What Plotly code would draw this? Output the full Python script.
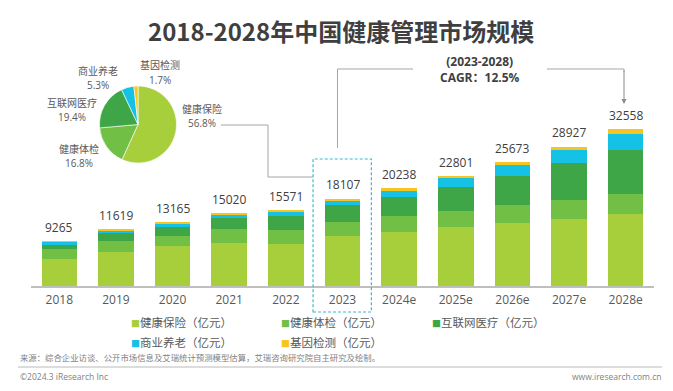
import plotly.graph_objects as go

# ---------------- data ----------------
years = ["2018", "2019", "2020", "2021", "2022", "2023", "2024e", "2025e", "2026e", "2027e", "2028e"]
totals = [9265, 11619, 13165, 15020, 15571, 18107, 20238, 22801, 25673, 28927, 32558]
health_insurance = [5600, 7100, 8350, 8850, 8700, 10285, 11250, 12300, 13130, 13900, 14930]
health_checkup = [2000, 2200, 2070, 2900, 2900, 3042, 3250, 3250, 3600, 3940, 4080]
internet_medical = [900, 1600, 1870, 2280, 2900, 3513, 3870, 5040, 6150, 7610, 9120]
commercial_pension = [650, 600, 750, 850, 850, 960, 1380, 1720, 2140, 2830, 3460]
gene_testing = [115, 119, 125, 140, 221, 307, 488, 491, 653, 647, 968]

series_names = ["健康保险（亿元）", "健康体检（亿元）", "互联网医疗（亿元）", "商业养老（亿元）", "基因检测（亿元）"]
series_values = [health_insurance, health_checkup, internet_medical, commercial_pension, gene_testing]
colors = ["#a6cf3b", "#72bf46", "#3fa648", "#16c1e6", "#f7c520"]

pie_labels = ["健康保险", "健康体检", "互联网医疗", "商业养老", "基因检测"]
pie_pct = [56.8, 16.8, 19.4, 5.3, 1.7]

cagr_period = "(2023-2028)"
cagr_text = "CAGR：12.5%"
title_text = "2018-2028年中国健康管理市场规模"
source_text = "来源：综合企业访谈、公开市场信息及艾瑞统计预测模型估算，艾瑞咨询研究院自主研究及绘制。"
copyright_text = "©2024.3 iResearch Inc"
site_text = "www.iresearch.com.cn"

# ---------------- layout geometry ----------------
W, H = 673, 391
ML, MR, MT, MB = 31, 19, 20, 105
PW, PH = W - ML - MR, H - MT - MB
PX_PER_UNIT = 0.004822
YMAX = PH / PX_PER_UNIT

def px(x):
    return (x - ML) / PW

def py(y):
    return (H - MB - y) / PH

FONT = "Open Sans, Noto Sans CJK SC, sans-serif"
CJK = "Noto Sans CJK SC, sans-serif"

idx = list(range(len(years)))

fig = go.Figure()

for name, vals, col in zip(series_names, series_values, colors):
    fig.add_trace(go.Bar(
        x=idx, y=vals, name=name,
        marker=dict(color=col, line=dict(width=0)),
        hoverinfo="skip", showlegend=False,
    ))

# pie
fig.add_trace(go.Pie(
    labels=pie_labels, values=pie_pct,
    marker=dict(colors=colors, line=dict(color="white", width=0.6)),
    sort=False, direction="clockwise", rotation=0,
    textinfo="none", hoverinfo="skip", showlegend=False,
    domain=dict(x=[px(99.5), px(176.5)], y=[py(163), py(86)]),
))

annotations = []
# totals above bars
for i, t in zip(idx, totals):
    annotations.append(dict(
        x=i, y=t, xref="x", yref="y", text=str(t), showarrow=False,
        yanchor="middle", yshift=14,
        font=dict(family=FONT, size=12, color="#404040"),
    ))

# pie labels: (center x, name y, pct y)
pie_label_pos = {
    "健康保险": (202, 108.5, 123),
    "健康体检": (79, 148.5, 163),
    "互联网医疗": (72, 102.5, 117),
    "商业养老": (98, 70.5, 85),
    "基因检测": (160, 64.5, 79.5),
}
for lab, pct in zip(pie_labels, pie_pct):
    cx, ny, vy = pie_label_pos[lab]
    annotations.append(dict(
        x=px(cx), y=py(ny), xref="paper", yref="paper",
        text=lab, showarrow=False, xanchor="center", yanchor="middle",
        font=dict(family=CJK, size=10, color="#595959"),
    ))
    annotations.append(dict(
        x=px(cx), y=py(vy), xref="paper", yref="paper",
        text=f"{pct}%", showarrow=False, xanchor="center", yanchor="middle",
        font=dict(family=FONT, size=10, color="#595959"),
    ))

# title
annotations.append(dict(
    x=px(340.5), y=py(30), xref="paper", yref="paper", text=f"<b>{title_text}</b>",
    showarrow=False, xanchor="center", yanchor="middle",
    font=dict(family=CJK, size=24, color="#3f3f3f"),
))

# CAGR
annotations.append(dict(
    x=px(480), y=py(69), xref="paper", yref="paper",
    text=f"<b>{cagr_period}</b><br><b>{cagr_text}</b>",
    showarrow=False, xanchor="center", yanchor="middle", align="center",
    font=dict(family=FONT, size=12, color="#404040"),
))
# arrow
annotations.append(dict(
    x=px(624), y=py(104), xref="paper", yref="paper", text="",
    showarrow=True, axref="pixel", ayref="pixel", ax=0, ay=-35,
    arrowhead=2, arrowsize=1, arrowwidth=1, arrowcolor="#8c8c8c",
))

# legend (custom)
legend_pos = [(129, 322), (279, 322), (430, 322), (129, 342), (279, 342)]
for (lx, ly), name, col in zip(legend_pos, series_names, colors):
    annotations.append(dict(
        x=px(lx), y=py(ly), xref="paper", yref="paper",
        text=f"<span style='color:{col};font-size:9px'>■</span>{name}",
        showarrow=False, xanchor="left", yanchor="middle",
        font=dict(family=CJK, size=11.5, color="#595959"),
    ))

# footer
annotations.append(dict(
    x=px(18), y=py(357), xref="paper", yref="paper", text=source_text,
    showarrow=False, xanchor="left", yanchor="middle",
    font=dict(family=CJK, size=8.4, color="#7f7f7f"),
))
annotations.append(dict(
    x=px(18), y=py(376), xref="paper", yref="paper", text=copyright_text,
    showarrow=False, xanchor="left", yanchor="middle",
    font=dict(family=FONT, size=8.5, color="#7f7f7f"),
))
annotations.append(dict(
    x=px(664), y=py(376), xref="paper", yref="paper", text=site_text,
    showarrow=False, xanchor="right", yanchor="middle",
    font=dict(family=FONT, size=8.5, color="#7f7f7f"),
))

shapes = []
# dashed box around 2023
i2023 = years.index("2023")
shapes.append(dict(
    type="rect", xref="x", yref="paper",
    x0=i2023 - 0.52, x1=i2023 + 0.51,
    y0=py(312), y1=py(159),
    line=dict(color="#3cb8d6", width=1.2, dash="3px,2px"),
))

def path(points):
    return "M " + " L ".join(f"{px(a):.5f},{py(b):.5f}" for a, b in points)

line_style = dict(color="#a6a6a6", width=1)
shapes.append(dict(type="path", xref="paper", yref="paper",
                   path=path([(221, 125), (268, 125), (268, 177), (313, 177)]), line=line_style))
shapes.append(dict(type="path", xref="paper", yref="paper",
                   path=path([(337.5, 148), (337.5, 69), (413, 69)]), line=line_style))
shapes.append(dict(type="path", xref="paper", yref="paper",
                   path=path([(547, 69), (624, 69), (624, 72)]), line=line_style))
# separator
shapes.append(dict(type="line", xref="paper", yref="paper",
                   x0=px(18), x1=px(662), y0=py(367), y1=py(367),
                   line=dict(color="#d0d0d0", width=1.5)))

fig.update_layout(
    width=W, height=H, barmode="stack", bargap=0.373,
    margin=dict(l=ML, r=MR, t=MT, b=MB),
    paper_bgcolor="white", plot_bgcolor="white",
    xaxis=dict(range=[-0.5, len(years) - 0.5], tickmode="array", tickvals=idx, ticktext=years,
               showline=True, linecolor="#bfbfbf", linewidth=2,
               ticks="", showgrid=False, zeroline=False,
               tickfont=dict(family=FONT, size=12, color="#595959"),
               ticklabelstandoff=2, fixedrange=True),
    yaxis=dict(visible=False, range=[0, YMAX], showgrid=False, zeroline=False, fixedrange=True),
    annotations=annotations, shapes=shapes,
    showlegend=False,
)

fig.write_html(
    "out.html",
    config={"displayModeBar": False},
    post_script="document.body.style.margin='0';document.body.style.overflow='hidden';",
)
